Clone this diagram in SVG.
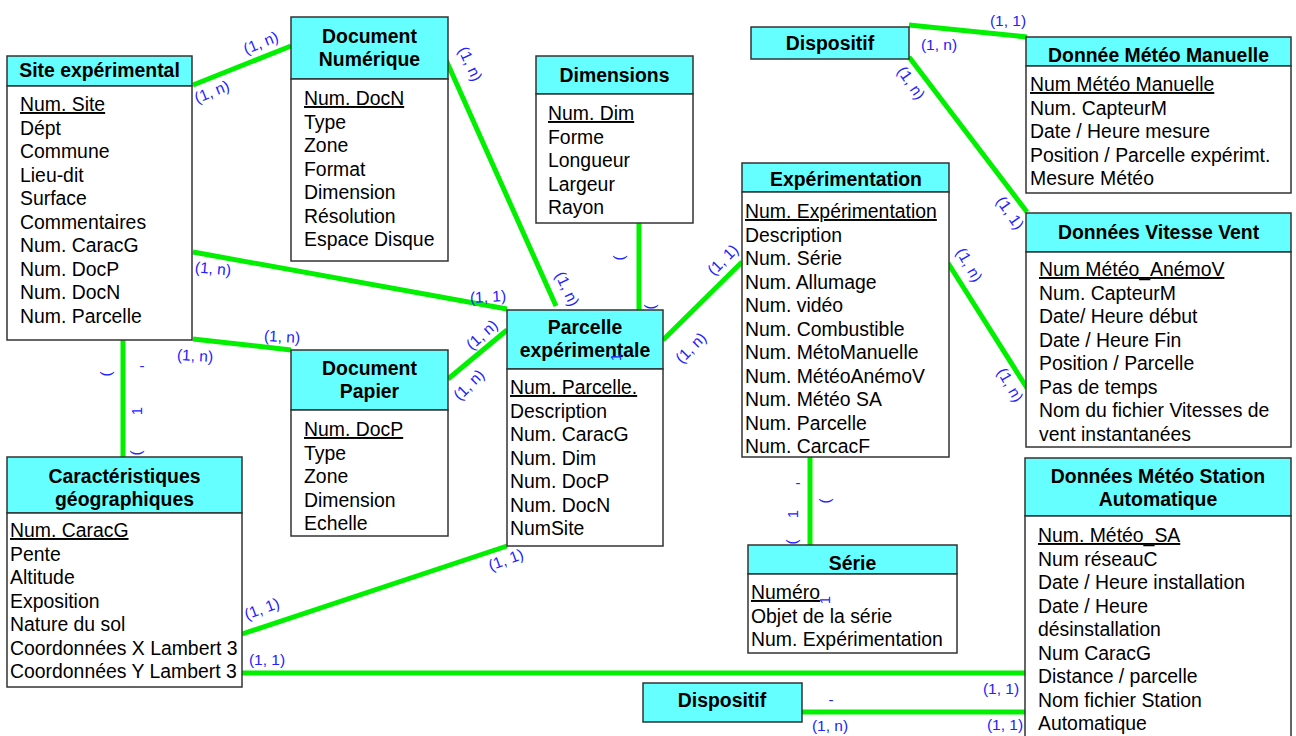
<svg xmlns="http://www.w3.org/2000/svg" width="1296" height="736" viewBox="0 0 1296 736">
<style>
.bx{fill:#fff;stroke:#333;stroke-width:1.5}
.hd{fill:#66ffff;stroke:#333;stroke-width:1.5}
text{font-family:"Liberation Sans",Arial,sans-serif;font-size:19.4px;fill:#000}
.h{font-weight:bold;text-anchor:middle}
.u{text-decoration:underline}
.c{stroke:#00f000;stroke-width:5;fill:none}
.l{fill:#2222ff;font-size:15.5px;text-anchor:middle}
.f{fill:#2222ff;font-size:15px;text-anchor:middle}
</style>
<rect width="1296" height="736" fill="#fff"/>
<g id="connectors">
<line class="c" x1="193" y1="85" x2="291" y2="46"/>
<line class="c" x1="193" y1="252" x2="507" y2="309"/>
<line class="c" x1="193" y1="339" x2="291" y2="350"/>
<line class="c" x1="446" y1="60" x2="556" y2="306"/>
<line class="c" x1="639" y1="223" x2="639" y2="310"/>
<line class="c" x1="663" y1="340" x2="742" y2="262"/>
<line class="c" x1="507" y1="330" x2="448" y2="379"/>
<line class="c" x1="123" y1="340" x2="123" y2="457"/>
<line class="c" x1="507" y1="546" x2="242" y2="634"/>
<line class="c" x1="242" y1="673" x2="1025" y2="673"/>
<line class="c" x1="802" y1="712" x2="1025" y2="712"/>
<line class="c" x1="909" y1="25" x2="1027" y2="37"/>
<line class="c" x1="909" y1="57" x2="1027" y2="212"/>
<line class="c" x1="948" y1="263" x2="1027" y2="388"/>
<line class="c" x1="810" y1="457" x2="810" y2="545"/>
</g>
<g id="labels">
<text class="l" transform="translate(261,43) rotate(-22)" y="5">(1, n)</text>
<text class="l" transform="translate(212,92) rotate(-22)" y="5">(1, n)</text>
<text class="l" transform="translate(213,269) rotate(5)" y="5">(1, n)</text>
<text class="l" transform="translate(488,297) rotate(-3)" y="5">(1, 1)</text>
<text class="l" transform="translate(282,337) rotate(3)" y="5">(1, n)</text>
<text class="l" transform="translate(195,356) rotate(3)" y="5">(1, n)</text>
<text class="l" transform="translate(470,64) rotate(65)" y="5">(1, n)</text>
<text class="l" transform="translate(567,289) rotate(65)" y="5">(1, n)</text>
<text class="l" transform="translate(723,260) rotate(-45)" y="5">(1, 1)</text>
<text class="l" transform="translate(691,348) rotate(-45)" y="5">(1, n)</text>
<text class="l" transform="translate(482,335) rotate(-42)" y="5">(1, n)</text>
<text class="l" transform="translate(469,385) rotate(-45)" y="5">(1, n)</text>
<text class="l" transform="translate(506,560) rotate(-20)" y="5">(1, 1)</text>
<text class="l" transform="translate(262,609) rotate(-20)" y="5">(1, 1)</text>
<text class="l" x="267" y="665">(1, 1)</text>
<text class="l" x="1001" y="694">(1, 1)</text>
<text class="l" x="830" y="731">(1, n)</text>
<text class="l" x="1005" y="730">(1, 1)</text>
<text class="l" x="1008" y="26">(1, 1)</text>
<text class="l" x="939" y="50">(1, n)</text>
<text class="l" transform="translate(911,83) rotate(55)" y="5">(1, n)</text>
<text class="l" transform="translate(1010,213) rotate(55)" y="5">(1, 1)</text>
<text class="l" transform="translate(969,265) rotate(60)" y="5">(1, n)</text>
<text class="l" transform="translate(1010,385) rotate(60)" y="5">(1, n)</text>
<text class="f" transform="translate(108,374) rotate(90)" y="5">)</text>
<text class="f" x="142" y="371">-</text>
<text class="f" transform="translate(137,411) rotate(-90)" y="5">1</text>
<text class="f" transform="translate(138,453) rotate(90)" y="5">)</text>
<text class="f" x="798" y="488">-</text>
<text class="f" transform="translate(827,501) rotate(90)" y="5">)</text>
<text class="f" transform="translate(793,514) rotate(-90)" y="5">1</text>
<text class="f" transform="translate(794,542) rotate(90)" y="5">)</text>
<text class="f" transform="translate(621,258) rotate(90)" y="5">)</text>
<text class="f" transform="translate(652,307) rotate(90)" y="5">)</text>
<text class="f" x="626" y="462">-</text>
<text class="f" x="831" y="705">-</text>
</g>
<g id="site">
<rect class="hd" x="7" y="56" width="185" height="30"/>
<rect class="bx" x="7" y="86" width="185" height="254"/>
<text class="h" x="99.5" y="77">Site expérimental</text>
<text x="20" y="111"><tspan class="u">Num. Site</tspan><tspan x="20" dy="23.5">Dépt</tspan><tspan x="20" dy="23.5">Commune</tspan><tspan x="20" dy="23.5">Lieu-dit</tspan><tspan x="20" dy="23.5">Surface</tspan><tspan x="20" dy="23.5">Commentaires</tspan><tspan x="20" dy="23.5">Num. CaracG</tspan><tspan x="20" dy="23.5">Num. DocP</tspan><tspan x="20" dy="23.5">Num. DocN</tspan><tspan x="20" dy="23.5">Num. Parcelle</tspan></text>
</g>
<g id="docnum">
<rect class="hd" x="291" y="17" width="157" height="62"/>
<rect class="bx" x="291" y="79" width="157" height="182"/>
<text class="h" x="369.5" y="43">Document</text>
<text class="h" x="369.5" y="66">Numérique</text>
<text x="304" y="105"><tspan class="u">Num. DocN</tspan><tspan x="304" dy="23.5">Type</tspan><tspan x="304" dy="23.5">Zone</tspan><tspan x="304" dy="23.5">Format</tspan><tspan x="304" dy="23.5">Dimension</tspan><tspan x="304" dy="23.5">Résolution</tspan><tspan x="304" dy="23.5">Espace Disque</tspan></text>
</g>
<g id="dimensions">
<rect class="hd" x="536" y="56" width="157" height="38"/>
<rect class="bx" x="536" y="94" width="157" height="129"/>
<text class="h" x="614.5" y="82">Dimensions</text>
<text x="548" y="120"><tspan class="u">Num. Dim</tspan><tspan x="548" dy="23.5">Forme</tspan><tspan x="548" dy="23.5">Longueur</tspan><tspan x="548" dy="23.5">Largeur</tspan><tspan x="548" dy="23.5">Rayon</tspan></text>
</g>
<g id="parcelle">
<rect class="hd" x="507" y="310" width="156" height="59"/>
<rect class="bx" x="507" y="369" width="156" height="177"/>
<text class="h" x="585" y="334">Parcelle</text>
<text class="h" x="585" y="357">expérimentale</text>
<text x="510" y="394"><tspan class="u">Num. Parcelle.</tspan><tspan x="510" dy="23.5">Description</tspan><tspan x="510" dy="23.5">Num. CaracG</tspan><tspan x="510" dy="23.5">Num. Dim</tspan><tspan x="510" dy="23.5">Num. DocP</tspan><tspan x="510" dy="23.5">Num. DocN</tspan><tspan x="510" dy="23.5">NumSite</tspan></text>
<text class="f" transform="translate(616,357) rotate(-90)" y="5">1</text>
</g>
<g id="experimentation">
<rect class="hd" x="742" y="163" width="207" height="29"/>
<rect class="bx" x="742" y="192" width="207" height="265"/>
<text class="h" x="846" y="186">Expérimentation</text>
<text x="745" y="218"><tspan class="u">Num. Expérimentation</tspan><tspan x="745" dy="23.5">Description</tspan><tspan x="745" dy="23.5">Num. Série</tspan><tspan x="745" dy="23.5">Num. Allumage</tspan><tspan x="745" dy="23.5">Num. vidéo</tspan><tspan x="745" dy="23.5">Num. Combustible</tspan><tspan x="745" dy="23.5">Num. MétoManuelle</tspan><tspan x="745" dy="23.5">Num. MétéoAnémoV</tspan><tspan x="745" dy="23.5">Num. Météo SA</tspan><tspan x="745" dy="23.5">Num. Parcelle</tspan><tspan x="745" dy="23.5">Num. CarcacF</tspan></text>
</g>
<g id="dispositif1">
<rect class="hd" x="751" y="27" width="158" height="32"/>
<text class="h" x="830" y="50">Dispositif</text>
</g>
<g id="meteomanuelle">
<rect class="hd" x="1026" y="37" width="265" height="29"/>
<rect class="bx" x="1026" y="66" width="265" height="127"/>
<text class="h" x="1158.5" y="62">Donnée Météo Manuelle</text>
<text x="1030" y="91"><tspan class="u">Num Météo Manuelle</tspan><tspan x="1030" dy="23.5">Num. CapteurM</tspan><tspan x="1030" dy="23.5">Date / Heure mesure</tspan><tspan x="1030" dy="23.5">Position / Parcelle expérimt.</tspan><tspan x="1030" dy="23.5">Mesure Météo</tspan></text>
</g>
<g id="vitessevent">
<rect class="hd" x="1026" y="213" width="265" height="39"/>
<rect class="bx" x="1026" y="252" width="265" height="195"/>
<text class="h" x="1158.5" y="239">Données Vitesse Vent</text>
<text x="1039" y="276"><tspan class="u">Num Météo_AnémoV</tspan><tspan x="1039" dy="23.5">Num. CapteurM</tspan><tspan x="1039" dy="23.5">Date/ Heure début</tspan><tspan x="1039" dy="23.5">Date / Heure Fin</tspan><tspan x="1039" dy="23.5">Position / Parcelle</tspan><tspan x="1039" dy="23.5">Pas de temps</tspan><tspan x="1039" dy="23.5">Nom du fichier Vitesses de</tspan><tspan x="1039" dy="23.5">vent instantanées</tspan></text>
</g>
<g id="station">
<rect class="hd" x="1025" y="458" width="266" height="58"/>
<rect class="bx" x="1025" y="516" width="266" height="230"/>
<text class="h" x="1158" y="483">Données Météo Station</text>
<text class="h" x="1158" y="506">Automatique</text>
<text x="1038" y="542"><tspan class="u">Num. Météo_SA</tspan><tspan x="1038" dy="23.5">Num réseauC</tspan><tspan x="1038" dy="23.5">Date / Heure installation</tspan><tspan x="1038" dy="23.5">Date / Heure</tspan><tspan x="1038" dy="23.5">désinstallation</tspan><tspan x="1038" dy="23.5">Num CaracG</tspan><tspan x="1038" dy="23.5">Distance / parcelle</tspan><tspan x="1038" dy="23.5">Nom fichier Station</tspan><tspan x="1038" dy="23.5">Automatique</tspan></text>
</g>
<g id="caracg">
<rect class="hd" x="7" y="457" width="235" height="56"/>
<rect class="bx" x="7" y="513" width="235" height="174"/>
<text class="h" x="124.5" y="483">Caractéristiques</text>
<text class="h" x="124.5" y="506">géographiques</text>
<text x="10" y="537"><tspan class="u">Num. CaracG</tspan><tspan x="10" dy="23.5">Pente</tspan><tspan x="10" dy="23.5">Altitude</tspan><tspan x="10" dy="23.5">Exposition</tspan><tspan x="10" dy="23.5">Nature du sol</tspan><tspan x="10" dy="23.5">Coordonnées X Lambert 3</tspan><tspan x="10" dy="23.5">Coordonnées Y Lambert 3</tspan></text>
</g>
<g id="docpapier">
<rect class="hd" x="291" y="350" width="157" height="60"/>
<rect class="bx" x="291" y="410" width="157" height="126"/>
<text class="h" x="369.5" y="375">Document</text>
<text class="h" x="369.5" y="398">Papier</text>
<text x="304" y="436"><tspan class="u">Num. DocP</tspan><tspan x="304" dy="23.5">Type</tspan><tspan x="304" dy="23.5">Zone</tspan><tspan x="304" dy="23.5">Dimension</tspan><tspan x="304" dy="23.5">Echelle</tspan></text>
</g>
<g id="serie">
<rect class="hd" x="748" y="545" width="209" height="29"/>
<rect class="bx" x="748" y="574" width="209" height="79"/>
<text class="h" x="852.5" y="570">Série</text>
<text x="751" y="599"><tspan class="u">Numéro</tspan><tspan x="751" dy="23.5">Objet de la série</tspan><tspan x="751" dy="23.5">Num. Expérimentation</tspan></text>
<text class="f" transform="translate(825,600) rotate(-90)" y="5">1</text>
</g>
<g id="dispositif2">
<rect class="hd" x="643" y="683" width="159" height="39"/>
<text class="h" x="722" y="707">Dispositif</text>
</g>
</svg>
